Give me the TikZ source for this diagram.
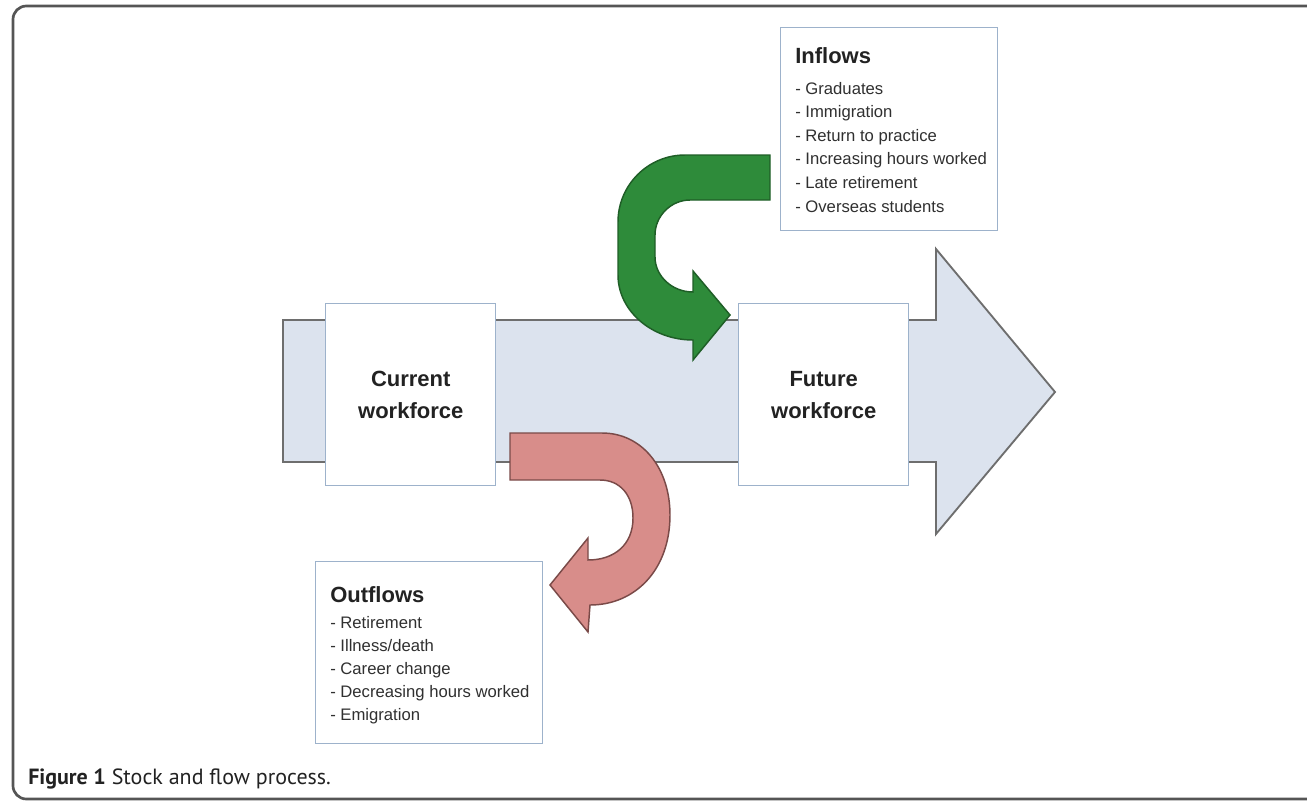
\documentclass[tikz,border=0pt]{standalone}
\usepackage{fontspec}
\setmainfont{Liberation Sans}
\newfontfamily\capfont{PT Sans}
\definecolor{bodyblue}{HTML}{DCE3EE}
\definecolor{bodyline}{HTML}{6E6E6E}
\definecolor{boxline}{HTML}{9DB2CB}
\definecolor{flowgreen}{HTML}{2E8B3A}
\definecolor{greenline}{HTML}{1F5E27}
\definecolor{flowred}{HTML}{D88D8A}
\definecolor{redline}{HTML}{7A4A48}
\definecolor{framegray}{HTML}{555555}
\definecolor{textdark}{HTML}{222222}
\definecolor{textitem}{HTML}{303030}
\tikzset{
  bigarrow/.style={fill=bodyblue, draw=bodyline, line width=1.4pt, line join=miter},
  wbox/.style={draw=boxline, fill=white, line width=1.1pt, inner sep=0pt, anchor=north west},
  stocktext/.style={align=center, text=textdark, font=\fontsize{16.5}{24}\selectfont\bfseries},
  flowtitle/.style={anchor=base west, inner sep=0pt, text=textdark, font=\fontsize{16.5}{20}\selectfont\bfseries},
  flowitem/.style={anchor=base west, inner sep=0pt, text=textitem, font=\fontsize{12.5}{15}\selectfont},
  greenflow/.style={fill=flowgreen, draw=greenline, line width=1.1pt, line join=miter},
  redflow/.style={fill=flowred, draw=redline, line width=1.1pt, line join=miter},
  captext/.style={anchor=base west, inner sep=0pt, text=textdark, font=\capfont\fontsize{16.5}{19}\selectfont}
}
\begin{document}
\begin{tikzpicture}[x=0.75pt,y=-0.75pt]
\useasboundingbox (0,0) rectangle (1307,800);
\clip (0,0) rectangle (1307,800);
\draw[framegray, line width=2pt, rounded corners=10pt] (13,6) rectangle (1340,799);

% main stock arrow
\draw[bigarrow] (283,320) -- (936,320) -- (936,249) -- (1055,392) -- (936,534) -- (936,462) -- (283,462) -- cycle;

% stock boxes
\node[wbox, minimum width=127.5pt, minimum height=136.5pt] (cur) at (325,303) {};
\node[stocktext] (curtext) at (cur.center) {Current\\workforce};
\node[wbox, minimum width=127.5pt, minimum height=136.5pt] (fut) at (738,303) {};
\node[stocktext] (futtext) at (fut.center) {Future\\workforce};

% inflow arrow (green)
\draw[greenflow] (770,155) -- (685,155)
  .. controls (648,155) and (618,185) .. (618,222)
  -- (618,275)
  .. controls (618,311) and (652,340) .. (693,340)
  -- (693,360) -- (730,315) -- (693,271) -- (693,292)
  .. controls (672,292) and (655,276) .. (655,257)
  -- (655,235)
  .. controls (655,216) and (671,200) .. (690,200)
  -- (770,200) -- cycle;

% outflow arrow (red)
\draw[redflow] (510,433) -- (602,433)
  .. controls (642,433) and (670,468) .. (670,515)
  .. controls (670,570) and (635,605) .. (590,605)
  -- (588,632) -- (550,585) -- (588,538) -- (588,560)
  .. controls (614,560) and (633,545) .. (633,518)
  .. controls (633,495) and (620,480) .. (600,480)
  -- (510,480) -- cycle;

% inflows box
\node[wbox, minimum width=162.75pt, minimum height=152.25pt] (inbox) at (780,27) {};
\node[flowtitle] (intitle) at (795,63) {Inflows};
\foreach \t [count=\i] in {Graduates, Immigration, Return to practice, Increasing hours worked, Late retirement, Overseas students}
  \node[flowitem] (in\i) at (795,{94+23.6*(\i-1)}) {- \t};

% outflows box
\node[wbox, minimum width=170.25pt, minimum height=136.5pt] (outbox) at (315,561) {};
\node[flowtitle] (outtitle) at (330,602) {Outflows};
\foreach \t [count=\i] in {Retirement, Illness/death, Career change, Decreasing hours worked, Emigration}
  \node[flowitem] (out\i) at (330,{628+23*(\i-1)}) {- \t};

% caption
\node[captext] (caption) at (28,784) {\textbf{Figure 1} Stock and flow process.};
\end{tikzpicture}
\end{document}
